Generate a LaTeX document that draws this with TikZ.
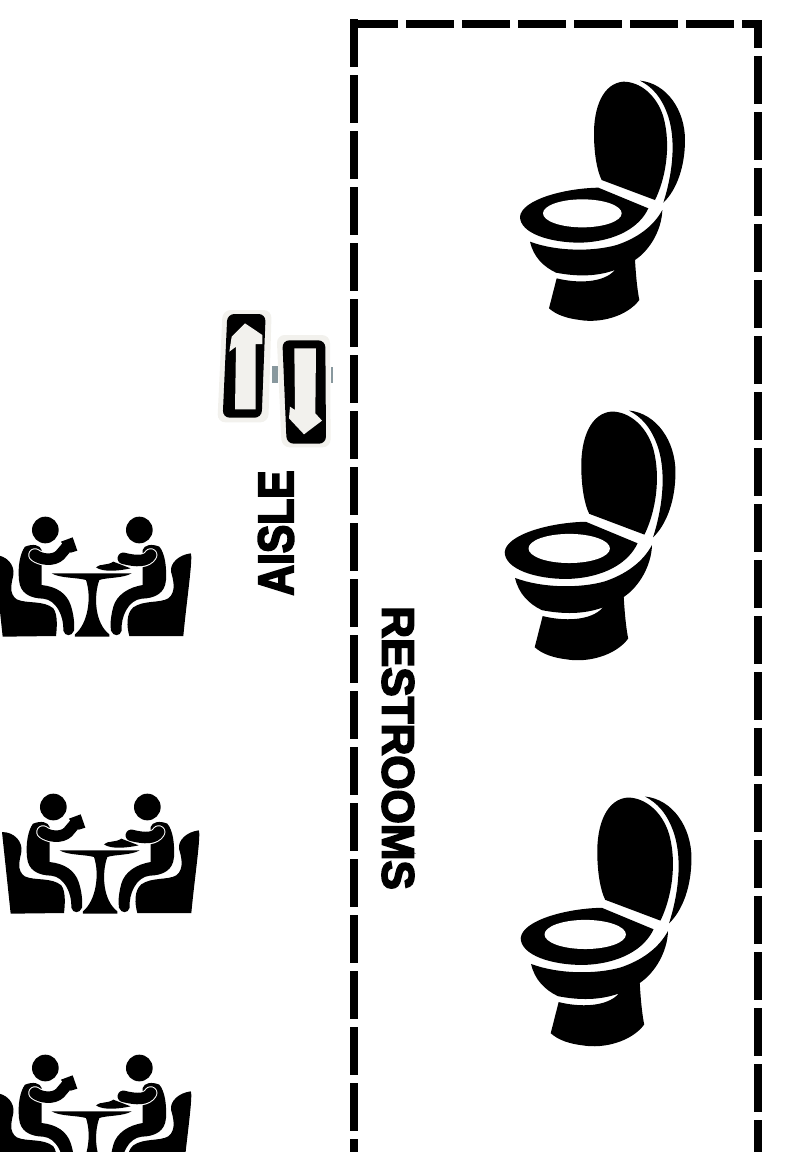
\documentclass[tikz,border=0pt]{standalone}
\usepackage{fontspec}
\newfontfamily\signfont[BoldFeatures={FakeBold=4}]{Liberation Sans}
\usetikzlibrary{positioning}
\definecolor{panel}{RGB}{242, 241, 237}
\definecolor{slate}{RGB}{136, 152, 158}

\tikzset{
  sign/.style={font=\signfont\bfseries\fontsize{50}{50}\selectfont, inner sep=0pt},
  border/.style={line width=8pt, dash pattern=on 48pt off 8pt},
  toilet/.pic={
    % lid, crescent and seat
    \fill (420,62) .. controls (500,70) and (555,150) .. (555,240) .. controls (555,320) and (530,390) .. (490,428) .. controls (515,350) and (530,250) .. (505,170) .. controls (485,110) and (455,80) .. (420,62) -- cycle;
    \fill (305,360) -- (465,420) .. controls (495,360) and (515,260) .. (490,170) .. controls (470,105) and (420,65) .. (370,65) .. controls (310,70) and (280,140) .. (282,230) .. controls (283,280) and (290,330) .. (305,360) -- cycle;
    \fill (295,383) -- (445,445) .. controls (420,500) and (350,545) .. (240,548) .. controls (150,548) and (60,520) .. (60,470) .. controls (65,420) and (190,385) .. (295,383) -- cycle;
    \fill[white] (247,460) ellipse[x radius=118, y radius=42];
    % bowl and base
    \fill (90,545) .. controls (170,575) and (280,575) .. (350,555) .. controls (410,535) and (460,500) .. (487,450) .. controls (485,510) and (450,570) .. (405,600) .. controls (408,650) and (412,690) .. (418,720) .. controls (380,770) and (300,790) .. (240,780) .. controls (200,775) and (170,765) .. (147,745) -- (170,655) .. controls (230,670) and (310,670) .. (345,630) .. controls (290,650) and (230,650) .. (168,638) .. controls (130,620) and (100,590) .. (90,545) -- cycle;
  },
  diner/.pic={
    % chairs
    \fill (-18,165) .. controls (20,165) and (45,195) .. (40,225) .. controls (35,250) and (25,280) .. (50,298) .. controls (80,312) and (130,300) .. (160,325) .. controls (175,345) and (170,390) .. (168,408) -- (8,410) -- cycle;
    \fill (572,160) .. controls (580,170) and (560,300) .. (550,408) -- (388,408) .. controls (380,380) and (378,340) .. (400,322) .. controls (430,300) and (480,310) .. (505,295) .. controls (530,275) and (520,240) .. (513,215) .. controls (510,190) and (535,165) .. (572,160) -- cycle;
    % table
    \fill (155,220) -- (395,220) .. controls (370,235) and (320,232) .. (298,240) .. controls (280,290) and (285,370) .. (328,403) -- (328,410) -- (225,410) -- (225,403) .. controls (265,370) and (275,290) .. (258,240) .. controls (230,232) and (180,235) .. (155,220) -- cycle;
    % left person
    \fill (136,90) circle[radius=40];
    \fill (75,140) .. controls (100,130) and (120,135) .. (125,150) -- (125,255) .. controls (170,260) and (200,280) .. (212,315) .. controls (222,345) and (224,375) .. (222,392) .. controls (215,410) and (195,410) .. (190,392) .. controls (192,350) and (170,300) .. (130,296) .. controls (90,295) and (60,280) .. (57,240) .. controls (53,200) and (60,160) .. (75,140) -- cycle;
    \draw[white, line width=13.5pt, line cap=round] (105,165) .. controls (120,178) and (160,185) .. (180,165);
    \draw[line width=11.5pt, line cap=round, line join=round] (105,165) .. controls (120,178) and (160,185) .. (180,165) -- (203,138);
    \fill (183,125) -- (218,112) -- (232,152) -- (212,158) -- (195,145) -- cycle;
    % right person
    \fill (418,90) circle[radius=40];
    \fill (478,140) .. controls (455,130) and (432,135) .. (428,150) -- (428,255) .. controls (385,262) and (350,285) .. (340,320) .. controls (332,350) and (330,375) .. (333,392) .. controls (340,410) and (360,410) .. (365,392) .. controls (362,350) and (385,300) .. (425,296) .. controls (465,295) and (495,280) .. (498,240) .. controls (500,200) and (495,160) .. (478,140) -- cycle;
    \draw[white, line width=13.5pt, line cap=round] (452,165) .. controls (440,185) and (410,185) .. (385,178);
    \draw[line width=11.5pt, line cap=round] (452,165) .. controls (440,185) and (410,185) .. (370,175);
    \fill (288,202) .. controls (300,190) and (320,198) .. (340,185) -- (392,205) .. controls (360,212) and (310,218) .. (288,202) -- cycle;
  }
}

\begin{document}
\begin{tikzpicture}[x=1pt, y=-1pt]
\useasboundingbox (0,0) rectangle (798,1152);
\clip (0,0) rectangle (798,1152);
% restrooms
\draw[border] (350,23.5) -- (757.5,23.5) -- (757.5,48);
\draw[border] (757.5,56) -- (757.5,1170);
\draw[border] (354,19.3) -- (354,1170);
\pic[scale=1/3] at (500,60) {toilet};
\pic[scale=1/3, xscale=1.035, yscale=1.04] at (484,389) {toilet};
\pic[scale=1/3, xscale=1.035, yscale=1.04] at (500,775) {toilet};
\node[sign, rotate=-90, xscale=0.88, yscale=0.9] (restrooms) at (398,748) {RESTROOMS};
% aisle
\node[sign, rotate=90, xscale=0.85, yscale=1.0] (aisle) at (276,533) {AISLE};
\begin{scope}[shift={(210,300)}, scale=1/3]
\fill[panel, rounded corners=8pt] (38,30) -- (185,30) -- (175,367) -- (22,367) -- cycle;
\fill[panel, rounded corners=8pt] (200,105) -- (360,105) -- (362,442) -- (215,442) -- cycle;
\fill[rounded corners=7pt] (52,42) -- (167,42) -- (155,353) -- (38,353) -- cycle;
\fill[rounded corners=7pt] (217,121) -- (346,121) -- (348,431) -- (230,431) -- cycle;
\fill[panel] (105,70) -- (157,105) -- (157,132) -- (137,132) -- (137,328) -- (75,328) -- (78,140) -- (58,155) -- (65,110) -- cycle;
\fill[panel] (253,145) -- (318,145) -- (316,340) -- (336,362) -- (282,403) -- (237,355) -- (240,320) -- (255,330) -- cycle;
\fill[slate] (185,198) rectangle (205,248);
\fill[slate] (362,202) rectangle (370,248);
\end{scope}
% tables
\pic[scale=1/3] at (0,500) {diner};
\pic[scale=1/3] at (8,777) {diner};
\pic[scale=1/3] at (0,1038) {diner};
\end{tikzpicture}
\end{document}
